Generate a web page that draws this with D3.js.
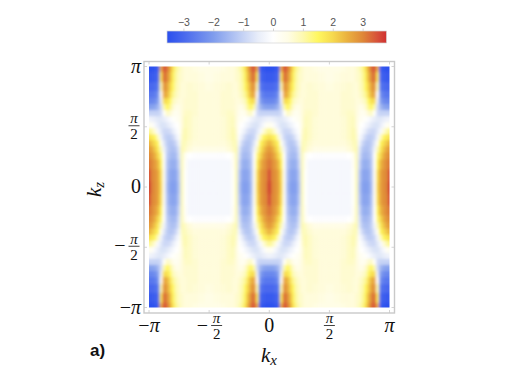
<!DOCTYPE html>
<html>
<head>
<meta charset="utf-8">
<script src="https://cdn.jsdelivr.net/npm/d3@7"></script>
<style>
  html, body { margin: 0; background: #fff; }
  svg { display: block; }
</style>
</head>
<body>
<svg id="chart" width="523" height="370"></svg>
<script>
const width = 523;
const height = 370;

// colour legend
const legendTicks = [-3, -2, -1, 0, 1, 2, 3];
const legendDomain = [-3.55, 3.8];
const colorStops = [-3.55, -3, -2, -1, -0.5, 0, 0.5, 1, 1.5, 2, 2.5, 3, 3.5, 3.8];
const colorValues = ["#2a4fee", "#4868ee", "#7f9ced", "#c6d3f5", "#e8edf9", "#ffffff", "#fffde6",
  "#fdf9b0", "#fff760", "#f6d94e", "#eab03f", "#df8838", "#d7503a", "#d03030"];

// the picture repeats around kx = 0, +-pi and is mirrored in kz, so one quarter was read
// offsets are in units of pi: distance from the nearest ridge in kx, distance from kz = 0
const kxOffsets = [0, 0.025, 0.05, 0.075, 0.1, 0.125, 0.15, 0.175, 0.2, 0.225, 0.25, 0.275, 0.3, 0.333, 0.383, 0.433, 0.5];
const kzOffsets = [0, 0.1, 0.2, 0.267, 0.317, 0.367, 0.417, 0.467, 0.517, 0.567, 0.617, 0.667, 0.717, 0.767, 0.833, 0.917, 1];
const spectrum = [
  [3.8, 3.05, 2.9, 2.7, 2.0, 0.2, -1.4, -1.9, -1.95, -1.9, -1.2, 0.9, 0.1, -0.2, -0.2, -0.2, -0.2],
  [3.6, 3.0, 2.9, 2.65, 1.9, 0.2, -1.3, -1.8, -1.85, -1.8, -1.1, 0.9, 0.1, -0.2, -0.2, -0.2, -0.2],
  [3.2, 2.95, 2.75, 2.4, 1.6, 0.1, -1.2, -1.6, -1.7, -1.6, -0.9, 0.9, 0.2, -0.2, -0.2, -0.2, -0.2],
  [3.0, 2.8, 2.5, 2.0, 1.3, 0.0, -1.1, -1.4, -1.5, -1.4, -0.7, 0.9, 0.3, 0.0, -0.05, -0.05, -0.05],
  [2.8, 2.6, 2.2, 1.7, 0.9, -0.3, -1.0, -1.3, -1.35, -1.2, -0.6, 1.0, 0.8, 0.6, 0.5, 0.5, 0.5],
  [2.5, 2.2, 1.9, 1.5, 0.3, -0.6, -1.1, -1.25, -1.2, -0.9, -0.3, 0.9, 0.9, 0.7, 0.6, 0.6, 0.6],
  [1.9, 1.7, 1.5, 0.8, -0.3, -0.9, -1.1, -1.1, -0.9, -0.5, -0.1, 0.8, 1.0, 0.8, 0.65, 0.6, 0.6],
  [1.2, 1.0, 0.6, -0.2, -0.6, -0.9, -0.9, -0.8, -0.5, -0.2, 0.05, 0.7, 1.0, 0.8, 0.65, 0.6, 0.6],
  [0.3, 0.2, -0.2, -0.5, -0.7, -0.7, -0.6, -0.4, -0.2, 0.0, 0.15, 0.6, 0.9, 0.8, 0.65, 0.6, 0.6],
  [-0.3, -0.4, -0.5, -0.6, -0.6, -0.5, -0.3, -0.1, 0.1, 0.2, 0.3, 0.6, 0.9, 0.8, 0.65, 0.6, 0.6],
  [-1.0, -1.0, -1.0, -1.0, -0.8, 0.1, 0.8, 0.7, 0.4, 0.3, 0.4, 0.6, 0.8, 0.8, 0.7, 0.6, 0.6],
  [-1.9, -1.9, -1.8, -1.5, -0.8, 1.0, 1.5, 1.2, 0.7, 0.5, 0.5, 0.6, 0.7, 0.7, 0.7, 0.6, 0.6],
  [-2.4, -2.4, -2.3, -1.9, -0.5, 1.9, 1.9, 1.5, 0.9, 0.7, 0.6, 0.6, 0.7, 0.7, 0.7, 0.6, 0.6],
  [-2.7, -2.7, -2.6, -2.2, 0.2, 2.6, 2.5, 1.9, 1.2, 0.9, 0.7, 0.6, 0.65, 0.7, 0.7, 0.6, 0.6],
  [-3.0, -3.0, -2.9, -2.7, 1.0, 2.9, 2.7, 2.1, 1.5, 1.0, 0.8, 0.6, 0.65, 0.7, 0.65, 0.6, 0.55],
  [-3.3, -3.3, -3.2, -3.0, 1.8, 3.3, 3.0, 2.4, 1.6, 1.1, 0.8, 0.7, 0.6, 0.6, 0.6, 0.55, 0.5],
  [-3.5, -3.5, -3.4, -3.2, 2.5, 3.5, 3.2, 2.6, 1.8, 1.2, 0.9, 0.7, 0.6, 0.6, 0.55, 0.5, 0.5]
];

// axis ticks in units of pi
const piTicks = [-1, -0.5, 0, 0.5, 1];

const serif = "'Liberation Serif', serif";
const sans = "'Liberation Sans', sans-serif";
const frameColor = "#c9c9c9";

const x = d3.scaleLinear().domain([-1, 1]).range([149, 389.5]);
const y = d3.scaleLinear().domain([-1, 1]).range([307.5, 66.5]);
const color = d3.scaleLinear().domain(colorStops).range(colorValues).clamp(true);
const legendX = d3.scaleLinear().domain(legendDomain).range([167, 386.5]);

const svg = d3.select("#chart");
const defs = svg.append("defs");

// heat map cells
defs.append("clipPath").attr("id", "plot-clip").append("rect")
  .attr("x", x(-1)).attr("y", y(1))
  .attr("width", x(1) - x(-1)).attr("height", y(-1) - y(1));
defs.append("filter").attr("id", "soften")
  .attr("filterUnits", "userSpaceOnUse")
  .attr("x", 130).attr("y", 50).attr("width", 280).attr("height", 280)
  .append("feGaussianBlur").attr("stdDeviation", 1.4);

// columns are {pos, idx}: position in kx and index into kxOffsets
const columns = [];
[-1, 0, 1].forEach(ridge => {
  kxOffsets.forEach((off, idx) => {
    [-off, off].forEach(s => {
      const pos = ridge + s;
      if (pos >= -1 && pos <= 1 && !columns.some(c => Math.abs(c.pos - pos) < 1e-6)) {
        columns.push({pos: pos, idx: idx});
      }
    });
  });
});
columns.sort((a, b) => a.pos - b.pos);

const rows = [];
kzOffsets.forEach((off, idx) => {
  rows.push({pos: off, idx: idx});
  if (off > 0) rows.push({pos: -off, idx: idx});
});
rows.sort((a, b) => a.pos - b.pos);

// cell edges sit half way between neighbours, outer ones run past the clip
const edges = (list, i) => [
  i === 0 ? list[0].pos - 0.1 : (list[i - 1].pos + list[i].pos) / 2,
  i === list.length - 1 ? list[i].pos + 0.1 : (list[i].pos + list[i + 1].pos) / 2
];

const cells = [];
rows.forEach((r, ri) => {
  columns.forEach((c, ci) => {
    cells.push({
      xe: edges(columns, ci),
      ye: edges(rows, ri),
      value: spectrum[r.idx][c.idx]
    });
  });
});

svg.append("g").attr("clip-path", "url(#plot-clip)")
  .append("g").attr("filter", "url(#soften)")
  .selectAll("rect")
  .data(cells)
  .join("rect")
  .attr("x", d => x(d.xe[0]))
  .attr("y", d => y(d.ye[1]))
  .attr("width", d => x(d.xe[1]) - x(d.xe[0]) + 0.5)
  .attr("height", d => y(d.ye[0]) - y(d.ye[1]) + 0.5)
  .attr("fill", d => color(d.value));

// frame
svg.append("rect")
  .attr("x", 144).attr("y", 61.5).attr("width", 250.5).attr("height", 251.5)
  .attr("fill", "none").attr("stroke", frameColor).attr("stroke-width", 1.4);

// frame ticks
const tickG = svg.append("g").attr("stroke", frameColor).attr("stroke-width", 0.8);
piTicks.forEach(t => {
  tickG.append("line").attr("x1", x(t)).attr("x2", x(t)).attr("y1", 313).attr("y2", 310);
  tickG.append("line").attr("x1", x(t)).attr("x2", x(t)).attr("y1", 61.5).attr("y2", 64.5);
  tickG.append("line").attr("y1", y(t)).attr("y2", y(t)).attr("x1", 144).attr("x2", 147);
  tickG.append("line").attr("y1", y(t)).attr("y2", y(t)).attr("x1", 394.5).attr("x2", 391.5);
});

// tick labels, the half pi ones are stacked fractions
function piLabel(px, py, t, anchorRight) {
  const g = svg.append("g").attr("transform", `translate(${px},${py})`)
    .attr("font-family", serif).attr("fill", "#111");
  const isHalf = Math.abs(t) === 0.5;
  const neg = t < 0;
  if (!isHalf) {
    const main = g.append("text").attr("font-size", 20)
      .attr("text-anchor", anchorRight ? "end" : "middle").attr("y", 6);
    main.append("tspan").text(t === 0 ? "0" : (neg ? "\u2212" : ""));
    if (t !== 0) main.append("tspan").attr("font-style", "italic").text("\u03c0");
    return;
  }
  const cx = anchorRight ? -7 : (neg ? 7.5 : 0);
  g.append("text").attr("x", cx).attr("y", -2.6).attr("text-anchor", "middle")
    .attr("font-size", 15).attr("font-style", "italic").text("\u03c0");
  g.append("line").attr("x1", cx - 5.5).attr("x2", cx + 5.5).attr("y1", 0).attr("y2", 0)
    .attr("stroke", "#111").attr("stroke-width", 0.8);
  g.append("text").attr("x", cx).attr("y", 13.5).attr("text-anchor", "middle")
    .attr("font-size", 15).text("2");
  if (neg) {
    g.append("text").attr("x", cx - 8.5).attr("y", 6).attr("text-anchor", "end")
      .attr("font-size", 20).text("\u2212");
  }
}

piTicks.forEach(t => {
  piLabel(x(t), Math.abs(t) === 0.5 ? 325.5 : 326, t, false);
  piLabel(141, Math.abs(t) === 0.5 ? y(t) - 1 : y(t), t, true);
});

// axis titles
svg.append("text").attr("x", 261).attr("y", 362)
  .attr("font-family", serif).attr("font-size", 21).attr("font-style", "italic").attr("fill", "#111")
  .text("k")
  .append("tspan").attr("dy", 3).attr("font-size", 15).text("x");

svg.append("text").attr("transform", "translate(101,197) rotate(-90)")
  .attr("font-family", serif).attr("font-size", 21).attr("font-style", "italic").attr("fill", "#111")
  .text("k")
  .append("tspan").attr("dy", 3).attr("font-size", 15).text("z");

svg.append("text").attr("x", 90).attr("y", 356)
  .attr("font-family", sans).attr("font-size", 17).attr("font-weight", "bold").attr("fill", "#111")
  .text("a)");

// legend
const grad = defs.append("linearGradient").attr("id", "legend-grad")
  .attr("x1", "0%").attr("x2", "100%").attr("y1", "0%").attr("y2", "0%");
colorStops.forEach((s, i) => {
  grad.append("stop")
    .attr("offset", (s - legendDomain[0]) / (legendDomain[1] - legendDomain[0]))
    .attr("stop-color", colorValues[i]);
});
svg.append("rect")
  .attr("x", legendX.range()[0]).attr("y", 31)
  .attr("width", legendX.range()[1] - legendX.range()[0]).attr("height", 12)
  .attr("fill", "url(#legend-grad)")
  .attr("stroke", "#d4d4d4").attr("stroke-width", 0.7);

const legendAxis = d3.axisTop(legendX)
  .tickValues(legendTicks)
  .tickSize(2.5)
  .tickPadding(3)
  .tickFormat(d => d < 0 ? "\u2212" + Math.abs(d) : d);
const legendG = svg.append("g").attr("transform", "translate(0,31)").call(legendAxis);
legendG.select(".domain").remove();
legendG.selectAll("line").attr("stroke", "#d4d4d4");
legendG.selectAll("text")
  .attr("font-family", sans).attr("font-size", 10.5).attr("fill", "#555");
</script>
</body>
</html>
